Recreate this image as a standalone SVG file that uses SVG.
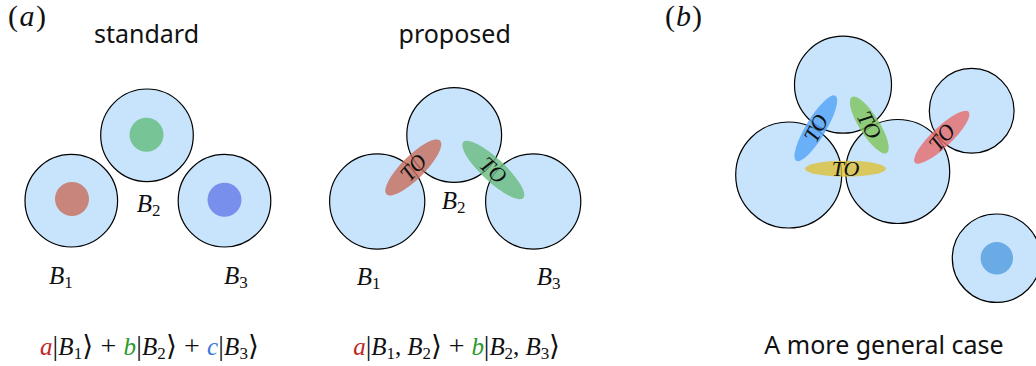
<svg xmlns="http://www.w3.org/2000/svg" width="1036" height="366" viewBox="0 0 1036 366">
<style>
.c{fill:#c8e4fc;stroke:#000;stroke-width:1.2}
.t{font-family:"Noto Sans","DejaVu Sans",sans-serif;font-size:25px;fill:#111;text-anchor:middle}
.m{font-family:"Liberation Serif","DejaVu Serif",serif;font-size:25px;fill:#111}
.f{font-family:"Liberation Serif","DejaVu Serif",serif;font-size:25px;fill:#111}
.k{font-size:28px}
.i{font-style:italic}
.to{font-family:"Liberation Serif","DejaVu Serif",serif;font-size:22px;font-style:italic;fill:#111;text-anchor:middle}
.e{opacity:0.8}
</style>
<rect width="1036" height="366" fill="#fff"/>
<text class="m" x="8" y="26" style="font-size:30px" textLength="38" lengthAdjust="spacing">(<tspan class="i">a</tspan>)</text>
<text class="m" x="665" y="26" style="font-size:30px" textLength="37" lengthAdjust="spacing">(<tspan class="i">b</tspan>)</text>
<text class="t" x="146.5" y="43">standard</text>
<text class="t" x="454.7" y="43">proposed</text>
<text class="t" x="884" y="354">A more general case</text>

<g id="std-B2"><circle class="c" cx="147" cy="135.3" r="46.3"/><circle cx="146.5" cy="134.7" r="17" fill="#77c497"/></g>
<g id="std-B1"><circle class="c" cx="71.3" cy="200.7" r="46.3"/><circle cx="72" cy="199" r="17" fill="#c8857b"/></g>
<g id="std-B3"><circle class="c" cx="224.5" cy="200.7" r="46.3"/><circle cx="224.5" cy="199.7" r="17" fill="#7890ec"/></g>
<g id="std-labels">
<text class="m" x="136.7" y="211.7"><tspan class="i">B</tspan><tspan font-size="17" dy="4">2</tspan></text>
<text class="m" x="49" y="284"><tspan class="i">B</tspan><tspan font-size="17" dy="4">1</tspan></text>
<text class="m" x="224" y="284"><tspan class="i">B</tspan><tspan font-size="17" dy="4">3</tspan></text>
</g>

<g id="pro-B2"><circle class="c" cx="454.2" cy="135" r="47.4"/></g>
<g id="pro-B1"><circle class="c" cx="377.2" cy="201.5" r="47.6"/></g>
<g id="pro-B3"><circle class="c" cx="533.2" cy="201.5" r="47.6"/></g>
<g id="pro-TO12">
<ellipse class="e" cx="413.3" cy="167.5" rx="38" ry="11.5" fill="#c86d5b" transform="rotate(-45 413.3 167.5)"/>
<text class="to" x="413.3" y="175" transform="rotate(-48 413.3 167.5)">TO</text>
</g>
<g id="pro-TO23">
<ellipse class="e" cx="493.3" cy="170" rx="41" ry="11.5" fill="#69bc7e" transform="rotate(43 493.3 170)"/>
<text class="to" x="493.3" y="177.5" transform="rotate(42 493.3 170)">TO</text>
</g>
<g id="pro-labels">
<text class="m" x="441.7" y="209"><tspan class="i">B</tspan><tspan font-size="17" dy="4">2</tspan></text>
<text class="m" x="356.7" y="285"><tspan class="i">B</tspan><tspan font-size="17" dy="4">1</tspan></text>
<text class="m" x="536.7" y="285"><tspan class="i">B</tspan><tspan font-size="17" dy="4">3</tspan></text>
</g>

<g id="gen-top"><circle class="c" cx="843" cy="84.7" r="48.5"/></g>
<g id="gen-left"><circle class="c" cx="788.7" cy="175" r="53"/></g>
<g id="gen-mid"><circle class="c" cx="897.7" cy="171.5" r="52"/></g>
<g id="gen-right"><circle class="c" cx="971.7" cy="110.8" r="42.4"/></g>
<g id="gen-bottom"><circle class="c" cx="996.5" cy="258.2" r="44.2"/><circle cx="996.8" cy="258.2" r="16.2" fill="#6aabe6"/></g>
<g id="gen-TO">
<ellipse class="e" cx="815.8" cy="128.3" rx="38" ry="10" fill="#52a3f7" transform="rotate(-59 815.8 128.3)"/>
<text class="to" x="815.8" y="135.8" transform="rotate(-62 815.8 128.3)">TO</text>
<ellipse class="e" cx="869.3" cy="125" rx="33" ry="10" fill="#7ec45a" transform="rotate(58 869.3 125)"/>
<text class="to" x="869.3" y="132.5" transform="rotate(62 869.3 125)">TO</text>
<ellipse class="e" cx="845.5" cy="168.7" rx="40.5" ry="8" fill="#dcc137"/>
<text class="to" x="845.5" y="175.7">TO</text>
<ellipse class="e" cx="941.8" cy="137.2" rx="37" ry="10" fill="#e76c6c" transform="rotate(-43.5 941.8 137.2)"/>
<text class="to" x="941.8" y="144.7" transform="rotate(-50 941.8 137.2)">TO</text>
</g>

<g id="formulas">
<text class="f" x="40" y="355" textLength="219" lengthAdjust="spacing"><tspan class="i" fill="#c0282a">a</tspan><tspan class="k">|</tspan><tspan class="i">B</tspan><tspan font-size="17" dy="4">1</tspan><tspan class="k" dy="-4">⟩ + </tspan><tspan class="i" fill="#2a9a2a">b</tspan><tspan class="k">|</tspan><tspan class="i">B</tspan><tspan font-size="17" dy="4">2</tspan><tspan class="k" dy="-4">⟩ + </tspan><tspan class="i" fill="#3a78d8">c</tspan><tspan class="k">|</tspan><tspan class="i">B</tspan><tspan font-size="17" dy="4">3</tspan><tspan class="k" dy="-4">⟩</tspan></text>
<text class="f" x="353.3" y="355" textLength="206.7" lengthAdjust="spacing"><tspan class="i" fill="#c0282a">a</tspan><tspan class="k">|</tspan><tspan class="i">B</tspan><tspan font-size="17" dy="4">1</tspan><tspan dy="-4">, </tspan><tspan class="i">B</tspan><tspan font-size="17" dy="4">2</tspan><tspan class="k" dy="-4">⟩ + </tspan><tspan class="i" fill="#2a9a2a">b</tspan><tspan class="k">|</tspan><tspan class="i">B</tspan><tspan font-size="17" dy="4">2</tspan><tspan dy="-4">, </tspan><tspan class="i">B</tspan><tspan font-size="17" dy="4">3</tspan><tspan class="k" dy="-4">⟩</tspan></text>
</g>
</svg>
